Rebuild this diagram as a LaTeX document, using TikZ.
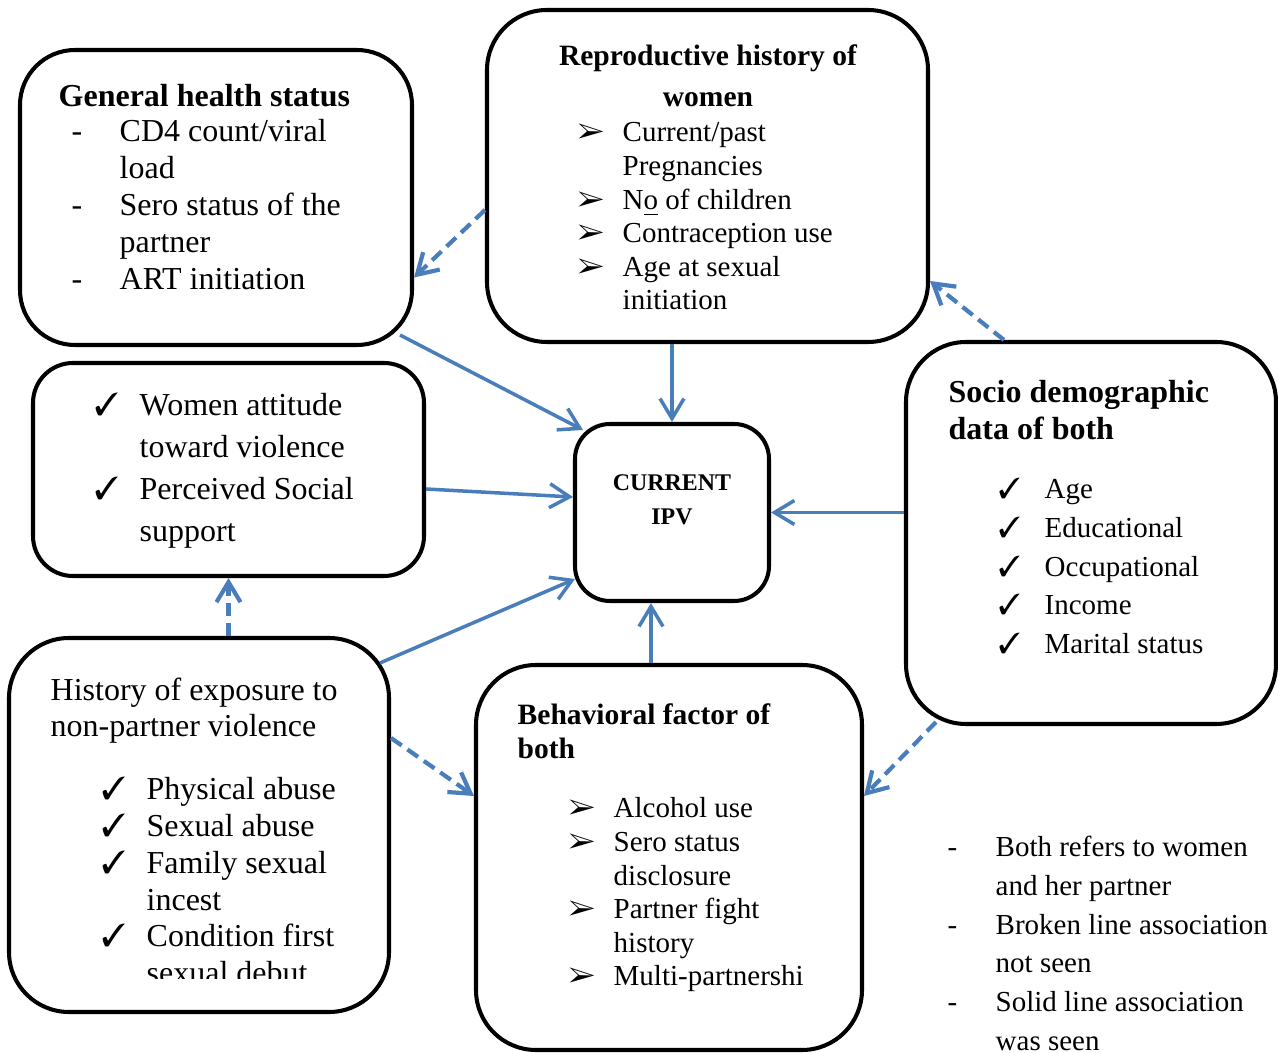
\documentclass[tikz,border=0pt]{standalone}
\usepackage{fontspec}
\setmainfont{Liberation Serif}
\usepackage{pifont}
\usetikzlibrary{arrows.meta}

\definecolor{linkblue}{HTML}{4A7EBB}
\newcommand{\chk}{\ding{51}}
\newcommand{\arr}{\ding{226}}

\begin{document}
\begin{tikzpicture}[
    box/.style={draw, line width=1.15pt, inner sep=0pt},
    link/.style={draw=linkblue, line width=1pt, -{Straight Barb[length=2mm,width=2.4mm]}},
    nolink/.style={link, line width=1.2pt, dash pattern=on 1.3mm off 0.7mm},
    txt/.style={anchor=base west, inner sep=0pt},
    mid/.style={anchor=base, inner sep=0pt}
  ]
  \useasboundingbox (0,0) rectangle (12.78,10.53);
  % boxes
  \node[box, minimum width=3.92cm, minimum height=2.95cm, rounded corners=5.5mm] (gh) at (2.16,8.555) {};
  \node[box, minimum width=4.41cm, minimum height=3.32cm, rounded corners=6mm] (repro) at (7.075,8.77) {};
  \node[box, minimum width=3.91cm, minimum height=2.13cm, rounded corners=4mm] (att) at (2.285,5.835) {};
  \node[box, minimum width=1.94cm, minimum height=1.77cm, rounded corners=3.5mm] (ipv) at (6.72,5.405) {};
  \node[box, minimum width=3.70cm, minimum height=3.82cm, rounded corners=6mm] (socio) at (10.91,5.20) {};
  \node[box, minimum width=3.80cm, minimum height=3.74cm, rounded corners=6mm] (hist) at (1.99,2.28) {};
  \node[box, minimum width=3.86cm, minimum height=3.85cm, rounded corners=6mm] (behav) at (6.69,1.955) {};

  % texts
  \node[txt, font=\bfseries\fontsize{9.1}{10.5}\selectfont] (ghtitle) at (0.58,9.46) {General health status};
  \node[txt, font=\fontsize{9.1}{10.5}\selectfont] (ghlist) at (0.71,9.11)
    {\begin{tabular}[t]{@{}p{4.8mm}@{}l@{}}
      - & CD4 count/viral\\ & load\\ - & Sero status of the\\ & partner\\ - & ART initiation
    \end{tabular}};

  \node[mid, font=\bfseries\fontsize{8.4}{11.4}\selectfont] (reprotitle) at (7.08,9.87)
    {\begin{tabular}[t]{@{}c@{}}Reproductive history of\\ women\end{tabular}};
  \node[txt, font=\fontsize{8.25}{9.56}\selectfont] (reprolist) at (5.77,9.11)
    {\begin{tabular}[t]{@{}p{4.5mm}@{}l@{}}
      \arr & Current/past\\ & Pregnancies\\ \arr & N\underline{o} of children\\
      \arr & Contraception use\\ \arr & Age at sexual\\ & initiation
    \end{tabular}};

  \node[txt, font=\fontsize{9.1}{11.95}\selectfont] (attlist) at (0.94,6.37)
    {\begin{tabular}[t]{@{}p{4.5mm}@{}l@{}}
      \chk & Women attitude\\ & toward violence\\ \chk & Perceived Social\\ & support
    \end{tabular}};

  \node[mid, font=\bfseries\fontsize{6.8}{9.4}\selectfont] (ipvtext) at (6.72,5.62)
    {\begin{tabular}[t]{@{}c@{}}CURRENT\\ IPV\end{tabular}};

  \node[txt, font=\bfseries\fontsize{9.1}{10.5}\selectfont] (sociotitle) at (9.48,6.50)
    {\begin{tabular}[t]{@{}l@{}}Socio demographic\\ data of both\end{tabular}};
  \node[txt, font=\fontsize{8.25}{11}\selectfont] (sociolist) at (9.98,5.54)
    {\begin{tabular}[t]{@{}p{4.6mm}@{}l@{}}
      \chk & Age\\ \chk & Educational\\ \chk & Occupational\\ \chk & Income\\ \chk & Marital status
    \end{tabular}};

  \node[txt, font=\fontsize{9.1}{10.24}\selectfont] (histtitle) at (0.50,3.52)
    {\begin{tabular}[t]{@{}l@{}}History of exposure to\\ non-partner violence\end{tabular}};
  \begin{scope}
    \clip (0.1,0.74) rectangle (3.8,3.0);
    \node[txt, font=\fontsize{9.1}{10.45}\selectfont] (histlist) at (1.01,2.53)
      {\begin{tabular}[t]{@{}p{4.5mm}@{}l@{}}
        \chk & Physical abuse\\ \chk & Sexual abuse\\ \chk & Family sexual\\ & incest\\
        \chk & Condition first\\ & sexual debut
      \end{tabular}};
  \end{scope}

  \node[txt, font=\bfseries\fontsize{8.4}{9.67}\selectfont] (behavtitle) at (5.17,3.28)
    {\begin{tabular}[t]{@{}l@{}}Behavioral factor of\\ both\end{tabular}};
  \node[txt, font=\fontsize{8.25}{9.56}\selectfont] (behavlist) at (5.68,2.35)
    {\begin{tabular}[t]{@{}p{4.5mm}@{}l@{}}
      \arr & Alcohol use\\ \arr & Sero status\\ & disclosure\\ \arr & Partner fight\\ & history\\
      \arr & Multi-partnershi
    \end{tabular}};

  % links
  \draw[nolink] ([yshift=-3.4mm]repro.west) -- ([yshift=-8mm]gh.east);
  \draw[link] ([xshift=-1.4mm,yshift=1.2mm]gh.south east) -- ([xshift=1mm,yshift=-0.8mm]ipv.north west);
  \draw[link] (repro.south -| ipv.north) -- (ipv.north);
  \draw[nolink] ([xshift=10mm]socio.north west) -- ([yshift=-10.5mm]repro.east);
  \draw[link] (socio.west |- ipv.east) -- (ipv.east);
  \draw[link] ([yshift=-1.95mm]att.east) -- ([yshift=1.55mm]ipv.west);
  \draw[nolink] (att.south |- hist.north) -- (att.south);
  \draw[link] ([xshift=-1.1mm,yshift=-2.7mm]hist.north east) -- ([xshift=0.2mm,yshift=2.4mm]ipv.south west);
  \coordinate (ipvfoot) at ([xshift=-2.1mm]ipv.south);
  \draw[link] (ipvfoot |- behav.north) -- (ipvfoot);
  \draw[nolink] ([yshift=8.7mm]hist.east) -- ([yshift=6.15mm]behav.west);
  \draw[nolink] ([xshift=3.2mm,yshift=0.4mm]socio.south west) -- ([yshift=6.15mm]behav.east);

  % legend
  \node[txt, font=\fontsize{8.25}{11}\selectfont] (legend) at (9.47,1.96)
    {\begin{tabular}[t]{@{}p{4.8mm}@{}l@{}}
      - & Both refers to women\\ & and her partner\\ - & Broken line association\\ & not seen\\
      - & Solid line association\\ & was seen
    \end{tabular}};
\end{tikzpicture}
\end{document}
